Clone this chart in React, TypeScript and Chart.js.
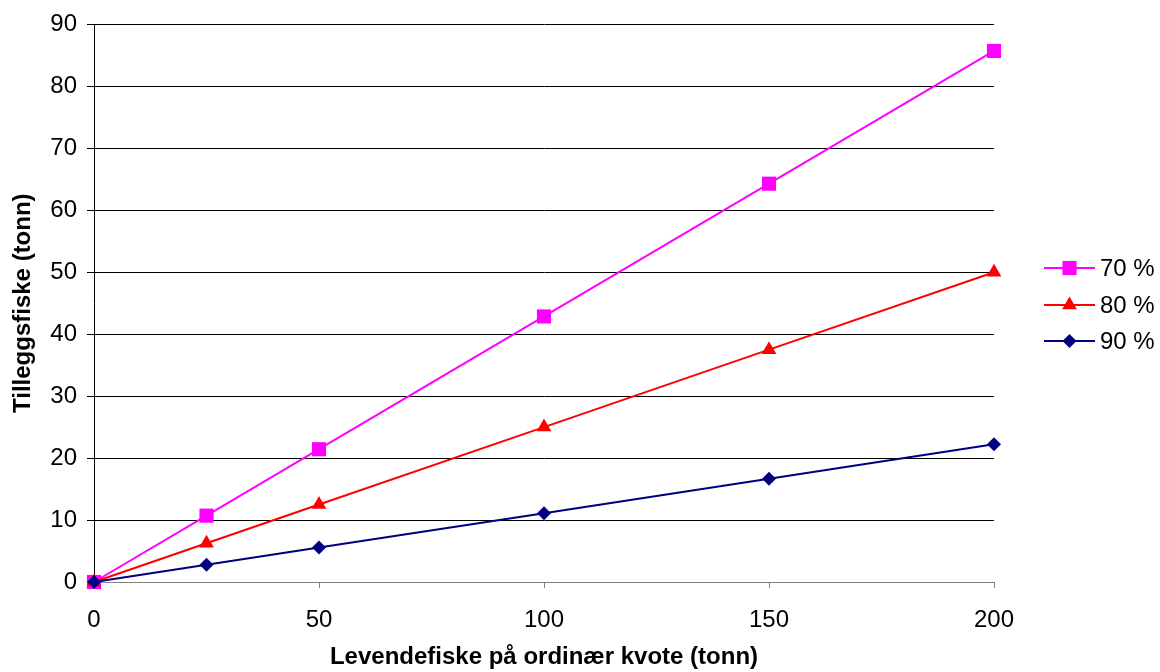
import React, { useEffect, useRef } from "react";
import { Chart, registerables } from "chart.js";

Chart.register(...registerables);

const xValues = [0, 25, 50, 100, 150, 200];
const series70 = [0, 10.71, 21.43, 42.86, 64.29, 85.71];
const series80 = [0, 6.25, 12.5, 25, 37.5, 50];
const series90 = [0, 2.78, 5.56, 11.11, 16.67, 22.22];
const seriesLabels = ["70 %", "80 %", "90 %"];
const xTitle = "Levendefiske på ordinær kvote (tonn)";
const yTitle = "Tilleggsfiske (tonn)";

const FONT = "'Liberation Sans', Arial, sans-serif";
const colors = ["#FF00FF", "#FF0000", "#000080"];
const shapes = ["rect", "triangle", "rectRot"];
const radii = [10, 8.5, 7];

function drawMarker(ctx: CanvasRenderingContext2D, shape: string, x: number, y: number, r: number, color: string) {
  ctx.save();
  ctx.fillStyle = color;
  ctx.beginPath();
  if (shape === "rect") {
    const s = r * Math.SQRT1_2;
    ctx.rect(x - s, y - s, 2 * s, 2 * s);
  } else if (shape === "triangle") {
    ctx.moveTo(x, y - r);
    ctx.lineTo(x + r * Math.sin(Math.PI / 3), y + r * 0.5);
    ctx.lineTo(x - r * Math.sin(Math.PI / 3), y + r * 0.5);
    ctx.closePath();
  } else {
    ctx.moveTo(x, y - r);
    ctx.lineTo(x + r, y);
    ctx.lineTo(x, y + r);
    ctx.lineTo(x - r, y);
    ctx.closePath();
  }
  ctx.fill();
  ctx.restore();
}

const legendPlugin = {
  id: "customLegend",
  afterDraw(chart: any) {
    const ctx = chart.ctx as CanvasRenderingContext2D;
    const rowsY = [268, 305, 341];
    seriesLabels.forEach((label, i) => {
      const y = rowsY[i];
      ctx.save();
      ctx.strokeStyle = colors[i];
      ctx.lineWidth = 2;
      ctx.beginPath();
      ctx.moveTo(1044, y);
      ctx.lineTo(1095, y);
      ctx.stroke();
      ctx.restore();
      drawMarker(ctx, shapes[i], 1069.5, y, radii[i], colors[i]);
      ctx.save();
      ctx.fillStyle = "#000";
      ctx.font = `24px ${FONT}`;
      ctx.textBaseline = "middle";
      ctx.textAlign = "left";
      ctx.fillText(label, 1100, y + 1);
      ctx.restore();
    });
  },
};

export default function App() {
  const ref = useRef<HTMLCanvasElement>(null);
  useEffect(() => {
    if (!ref.current) return;
    const mk = (vals: number[]) => xValues.map((x, i) => ({ x, y: vals[i] }));
    const all = [series70, series80, series90];
    const chart = new Chart(ref.current, {
      type: "line",
      data: {
        datasets: all.map((vals, i) => ({
          label: seriesLabels[i],
          data: mk(vals),
          borderColor: colors[i],
          backgroundColor: colors[i],
          borderWidth: 2,
          pointStyle: shapes[i] as any,
          pointRadius: radii[i],
          pointBorderWidth: 0,
          pointBackgroundColor: colors[i],
          pointBorderColor: colors[i],
          fill: false,
          tension: 0,
          clip: false as any,
          order: 2 - i,
        })),
      },
      options: {
        animation: false,
        responsive: false,
        maintainAspectRatio: false,
        layout: { padding: { left: 0, right: 166, top: 24, bottom: 0 } },
        plugins: { legend: { display: false }, tooltip: { enabled: false } },
        scales: {
          x: {
            type: "linear",
            min: 0,
            max: 200,
            afterFit: (s: any) => { s.height = 90; },
            ticks: {
              stepSize: 50,
              color: "#000",
              font: { family: FONT, size: 24 },
              padding: 18,
              maxRotation: 0,
            },
            grid: {
              drawOnChartArea: false,
              drawTicks: true,
              tickLength: 6,
              color: "#808080",
              lineWidth: 1,
            },
            border: { display: true, color: "#808080", width: 1 },
            title: {
              display: true,
              text: xTitle,
              color: "#000",
              font: { family: FONT, size: 24, weight: "bold" },
              padding: { top: 0, bottom: 0 },
            },
          },
          y: {
            min: 0,
            max: 90,
            afterFit: (s: any) => { s.width = 94; },
            ticks: {
              stepSize: 10,
              color: "#000",
              font: { family: FONT, size: 24 },
              padding: 10,
            },
            grid: {
              color: "#000",
              drawTicks: true,
              tickLength: 7,
              lineWidth: 1,
            },
            border: { display: true, color: "#000", width: 1 },
            title: {
              display: true,
              text: yTitle,
              color: "#000",
              font: { family: FONT, size: 24, weight: "bold" },
              padding: { top: 9, bottom: 0 },
            },
          },
        },
      },
      plugins: [legendPlugin],
    });
    return () => chart.destroy();
  }, []);
  return (
    <div style={{ position: "fixed", left: 0, top: 0, width: 1160, height: 672, background: "#fff" }}>
      <canvas ref={ref} width={1160} height={672} style={{ width: 1160, height: 672, display: "block" }} />
    </div>
  );
}
